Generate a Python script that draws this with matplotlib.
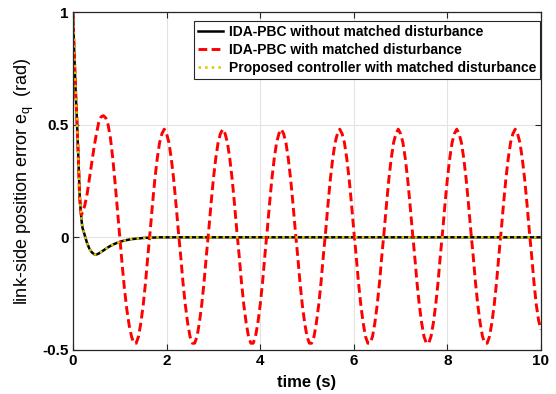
import numpy as np
import matplotlib
matplotlib.use("Agg")
from matplotlib import pyplot as plt

plt.rcParams['font.family'] = ['Liberation Sans', 'DejaVu Sans']

# time grids (s)
red_t = np.concatenate([np.arange(0, 0.21, 0.02), np.arange(0.25, 10.001, 0.05)])
black_t = np.concatenate([np.arange(0, 0.21, 0.02), np.arange(0.25, 2.001, 0.05), [10.0]])

# IDA-PBC with matched disturbance
red_v = [1.00, 0.86, 0.74, 0.63, 0.54, 0.43, 0.32, 0.18, 0.12, 0.10, 0.11,
         0.14, 0.19, 0.26, 0.33, 0.40, 0.46, 0.51, 0.535, 0.54, 0.53, 0.50,
         0.44, 0.35, 0.24, 0.12, 0.00, -0.12, -0.23, -0.32, -0.39, -0.44,
         -0.47, -0.47, -0.44, -0.38, -0.30, -0.20, -0.08, 0.03, 0.15, 0.26, 0.35, 0.42, 0.46,
         0.48, 0.46, 0.42, 0.35, 0.26, 0.15, 0.03, -0.08, -0.20, -0.30, -0.38, -0.44, -0.47,
         -0.47, -0.44, -0.38, -0.30, -0.20, -0.08, 0.03, 0.15, 0.26, 0.35, 0.42, 0.46,
         0.48, 0.46, 0.42, 0.35, 0.26, 0.15, 0.03, -0.08, -0.20, -0.30, -0.38, -0.44, -0.47,
         -0.47, -0.44, -0.38, -0.30, -0.20, -0.08, 0.03, 0.15, 0.26, 0.35, 0.42, 0.46,
         0.48, 0.46, 0.42, 0.35, 0.26, 0.15, 0.03, -0.08, -0.20, -0.30, -0.38, -0.44, -0.47,
         -0.47, -0.44, -0.38, -0.30, -0.20, -0.08, 0.03, 0.15, 0.26, 0.35, 0.42, 0.46,
         0.48, 0.46, 0.42, 0.35, 0.26, 0.15, 0.03, -0.08, -0.20, -0.30, -0.38, -0.44, -0.47,
         -0.47, -0.44, -0.38, -0.30, -0.20, -0.08, 0.03, 0.15, 0.26, 0.35, 0.42, 0.46,
         0.48, 0.46, 0.42, 0.35, 0.26, 0.15, 0.03, -0.08, -0.20, -0.30, -0.38, -0.44, -0.47,
         -0.47, -0.44, -0.38, -0.30, -0.20, -0.08, 0.03, 0.15, 0.26, 0.35, 0.42, 0.46,
         0.48, 0.46, 0.42, 0.35, 0.26, 0.15, 0.03, -0.08, -0.20, -0.30, -0.38, -0.44, -0.47,
         -0.47, -0.44, -0.38, -0.30, -0.20, -0.08, 0.03, 0.15, 0.26, 0.35, 0.42, 0.46,
         0.48, 0.46, 0.42, 0.35, 0.26, 0.15, 0.03, -0.08, -0.20, -0.30, -0.37, -0.41]

# IDA-PBC without matched disturbance
black_v = [1.00, 0.86, 0.74, 0.63, 0.54, 0.43, 0.32, 0.20, 0.13, 0.08, 0.045,
           0.01, -0.025, -0.05, -0.066, -0.075, -0.076, -0.072, -0.065, -0.058, -0.051,
           -0.044, -0.038, -0.033, -0.028, -0.024, -0.020, -0.017, -0.014, -0.012, -0.010,
           -0.008, -0.007, -0.006, -0.005, -0.004, -0.003, -0.002, -0.002, -0.001, -0.001,
           -0.001, 0.0, 0.0, 0.0, 0.0, 0.0, 0.0]

# proposed controller with matched disturbance
prop_v = list(black_v)

xticks = [0, 2, 4, 6, 8, 10]
yticks = [-0.5, 0, 0.5, 1]
ytick_labels = ['-0.5', '0', '0.5', '1']

fig = plt.figure(figsize=(5.56, 3.94), dpi=100)
ax = fig.add_axes([0.1313, 0.1117, 0.8417, 0.8578])

ax.plot(black_t, black_v, color='black', lw=1.8,
        label='IDA-PBC without matched disturbance')
ax.plot(red_t, red_v, color='red', lw=2.1, dashes=(3, 1.5),
        label='IDA-PBC with matched disturbance')
ax.plot(black_t, prop_v, color='#d4c800', lw=1.8, ls=':',
        label='Proposed controller with matched disturbance')

ax.set_xlim(0, 10)
ax.set_ylim(-0.5, 1)
ax.set_xticks(xticks)
ax.set_xticklabels([str(x) for x in xticks], fontweight='bold', fontsize=11)
ax.set_yticks(yticks)
ax.set_yticklabels(ytick_labels, fontweight='bold', fontsize=11)
ax.tick_params(direction='in', top=True, right=True, length=4, color='#262626', pad=3)
ax.grid(True, color='#e3e3e3', lw=0.8)
ax.set_axisbelow(True)
for s in ax.spines.values():
    s.set_color('#262626')
    s.set_linewidth(0.9)

ax.set_xlabel('time (s)', fontweight='bold', fontsize=12, labelpad=5)
ax.set_ylabel('link-side position error e$_\\mathregular{q}$  (rad)', fontsize=13)
ax.yaxis.set_label_coords(-0.08, 0.5)

leg = ax.legend(loc='upper right', bbox_to_anchor=(0.998, 0.974), fancybox=False,
                framealpha=1, edgecolor='#262626', prop={'weight': 'bold', 'size': 10},
                handlelength=1.8, handletextpad=0.4, borderpad=0.3, labelspacing=0.28,
                borderaxespad=0)
leg.get_frame().set_linewidth(0.8)

fig.savefig('out.png', dpi=100)
